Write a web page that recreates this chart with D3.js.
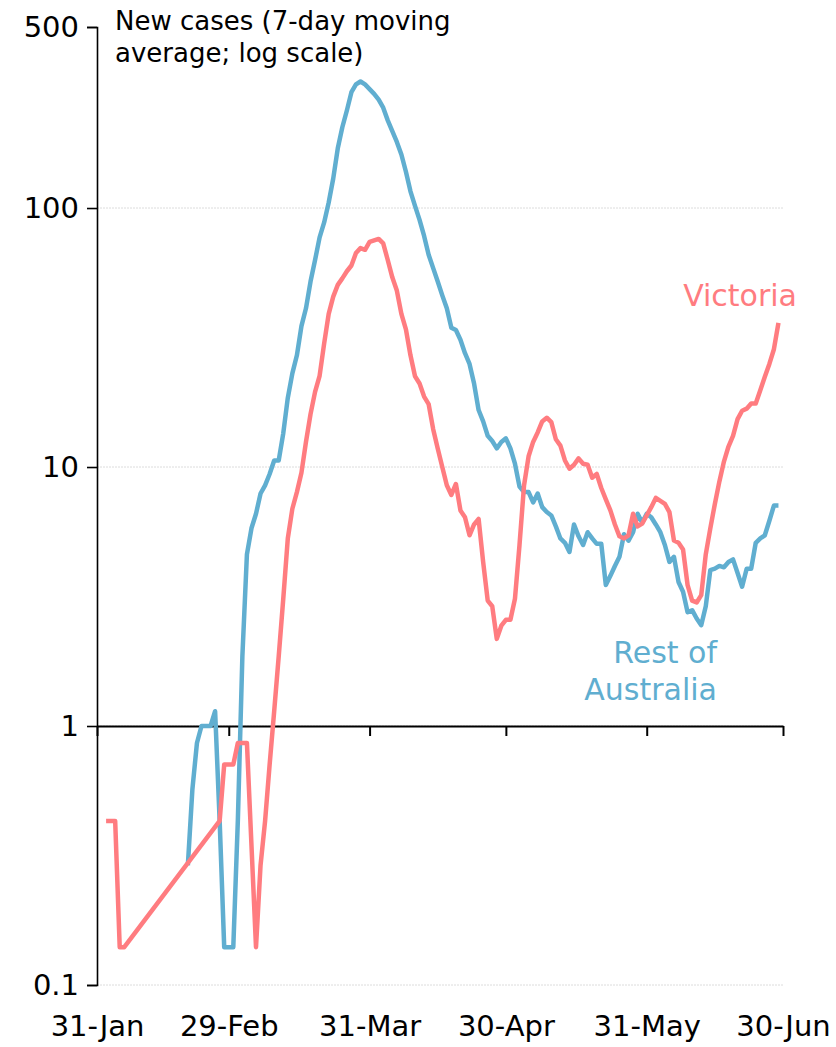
<!DOCTYPE html>
<html>
<head>
<meta charset="utf-8">
<script src="https://cdn.jsdelivr.net/npm/d3@7"></script>
<style>
  body { margin: 0; background: #fff; }
  svg text { font-family: "Century Gothic", "DejaVu Sans", sans-serif; fill: #000; }
</style>
</head>
<body>
<svg></svg>
<script>
const svg = d3.select("svg");

const sizes = {
  width: 836,
  height: 1047,
  left: 97,
  right: 783,
  top: 27,
  bottom: 985
};

svg.attr("width", sizes.width).attr("height", sizes.height);

// daily 7-day averages, starting 31 Jan 2020 (null = no cases that day)
const startDate = new Date(Date.UTC(2020, 0, 31));

const victoria = [
  null, null, 0.43, 0.43, 0.43, 0.14, 0.14, null, null, null,
  null, null, null, null, null, null, null, null, null, null,
  null, null, null, null, null, null, null, 0.43, 0.71, 0.71,
  0.71, 0.86, 0.86, 0.86, null, 0.14, 0.29, 0.43, 0.71, 1.14,
  1.86, 3.1, 5.3, 6.9, 8.0, 9.5, 12.5, 16, 19.5, 22.5,
  30, 39, 45.5, 50.5, 53.5, 57, 60, 67, 70, 69,
  74, 75, 76, 73, 63, 54, 48, 39, 34, 27,
  22.4, 21, 18.7, 17.5, 14, 11.8, 10, 8.5, 7.8, 8.6,
  6.8, 6.4, 5.45, 6.0, 6.3, 4.3, 3.05, 2.9, 2.17, 2.44,
  2.57, 2.57, 3.1, 5.0, 8.5, 11, 12.5, 13.6, 15.0, 15.5,
  14.9, 12.8, 12.1, 10.6, 9.85, 10.2, 10.8, 10.3, 10.2, 9.1,
  9.4, 8.3, 7.5, 6.8, 6.0, 5.4, 5.3, 5.45, 6.6, 5.9,
  6.05, 6.5, 7.0, 7.6, 7.4, 7.2, 6.7, 5.2, 5.1, 4.8,
  3.5, 3.05, 3.0, 3.2, 4.6, 5.8, 7.2, 8.8, 10.5, 12,
  13.2, 15.3, 16.5, 16.8, 17.6, 17.6, 19.8, 22.3, 25, 28.5,
  36
];

const restOfAustralia = [
  null, null, null, null, null, null, null, null, null, null,
  null, null, null, null, null, null, null, null, null, null,
  0.29, 0.57, 0.86, 1.0, 1.0, 1.0, 1.14, 0.43, 0.14, 0.14,
  0.14, 0.43, 1.86, 4.6, 5.8, 6.6, 7.9, 8.5, 9.4, 10.6,
  10.6, 13.5, 18.5, 23, 27, 35, 41, 52, 63, 77,
  88, 105, 130, 170, 205, 238, 280, 300, 308, 300,
  288, 276, 262, 244, 218, 198, 180, 161, 138, 116,
  102, 90, 78, 66, 58.6, 52, 46, 41, 34.5, 33.8,
  31, 27.5, 25, 21, 16.6, 15, 13.2, 12.6, 11.8, 12.5,
  12.9, 11.8, 10.3, 8.4, 8.0, 8.0, 7.3, 7.9, 7.0, 6.7,
  6.5, 5.9, 5.3, 5.1, 4.7, 6.0, 5.4, 5.0, 5.6, 5.3,
  5.05, 5.05, 3.5, 3.8, 4.15, 4.5, 5.5, 5.2, 5.6, 6.6,
  6.1, 6.6, 6.4, 6.0, 5.6, 5.0, 4.3, 4.5, 3.6, 3.3,
  2.75, 2.8, 2.6, 2.45, 2.9, 4.0, 4.05, 4.15, 4.1, 4.3,
  4.4, 3.9, 3.45, 4.05, 4.05, 5.1, 5.3, 5.45, 6.2, 7.1,
  7.1
];

const yTicks = [0.1, 1, 10, 100, 500];
const yGrid = [0.1, 1, 10, 100];
const xTickDates = ["2020-01-31", "2020-02-29", "2020-03-31", "2020-04-30", "2020-05-31", "2020-06-30"];
const xTickLabels = ["31-Jan", "29-Feb", "31-Mar", "30-Apr", "31-May", "30-Jun"];

const colours = { victoria: "#ff7c80", rest: "#60aed0" };

const x = d3
  .scaleUtc()
  .domain([startDate, new Date(Date.UTC(2020, 5, 30))])
  .range([sizes.left, sizes.right]);

const y = d3
  .scaleLog()
  .domain([0.1, 500])
  .range([sizes.bottom, sizes.top]);

// gridlines
svg
  .append("g")
  .selectAll("line")
  .data(yGrid)
  .enter()
  .append("line")
  .attr("x1", sizes.left)
  .attr("x2", sizes.right)
  .attr("y1", d => y(d))
  .attr("y2", d => y(d))
  .attr("stroke", "#dcdcdc")
  .attr("stroke-width", 1)
  .attr("stroke-dasharray", "2,1");

// y axis
const yAxis = svg
  .append("g")
  .attr("transform", `translate(${sizes.left},0)`)
  .call(
    d3
      .axisLeft(y)
      .tickValues(yTicks)
      .tickFormat(d => (d < 1 ? "0.1" : d3.format("d")(d)))
      .tickSize(10)
      .tickPadding(8)
  );

yAxis.select(".domain").attr("stroke", "#000").attr("stroke-width", 1.6);
yAxis.selectAll(".tick line").attr("stroke", "#000").attr("stroke-width", 1.6);
yAxis
  .selectAll(".tick text")
  .style("font-size", "29px")
  .attr("fill", "#000");

// x axis sits on the 1 line
const xAxis = svg
  .append("g")
  .attr("transform", `translate(0,${y(1)})`)
  .call(
    d3
      .axisBottom(x)
      .tickValues(xTickDates.map(s => new Date(s + "T00:00:00Z")))
      .tickFormat((d, i) => xTickLabels[i])
      .tickSize(10)
      .tickSizeOuter(0)
  );

xAxis.select(".domain").attr("stroke", "#000").attr("stroke-width", 2.2);
xAxis.selectAll(".tick line").attr("stroke", "#000").attr("stroke-width", 2);
xAxis
  .selectAll(".tick text")
  .attr("y", 310)
  .attr("dy", 0)
  .style("font-size", "29px")
  .attr("fill", "#000");

// lines
const lineCreater = d3
  .line()
  .x(d => x(d.date))
  .y(d => y(d.value));

function toPoints(values) {
  return values
    .map((v, i) => ({ date: d3.utcDay.offset(startDate, i), value: v }))
    .filter(d => d.value !== null);
}

svg
  .append("path")
  .attr("d", lineCreater(toPoints(restOfAustralia)))
  .attr("fill", "none")
  .attr("stroke", colours.rest)
  .attr("stroke-width", 4.5)
  .attr("stroke-linejoin", "round");

svg
  .append("path")
  .attr("d", lineCreater(toPoints(victoria)))
  .attr("fill", "none")
  .attr("stroke", colours.victoria)
  .attr("stroke-width", 4.5)
  .attr("stroke-linejoin", "round");

// axis title
const title = svg
  .append("text")
  .attr("x", 115)
  .attr("y", 30)
  .style("font-size", "26px");
title.append("tspan").attr("x", 115).text("New cases (7-day moving");
title.append("tspan").attr("x", 115).attr("dy", 32).text("average; log scale)");

// series labels
svg
  .append("text")
  .attr("x", 797)
  .attr("y", 306)
  .attr("text-anchor", "end")
  .style("font-size", "30px")
  .style("fill", colours.victoria)
  .text("Victoria");

const restLabel = svg
  .append("text")
  .attr("y", 663)
  .attr("text-anchor", "end")
  .style("font-size", "30px")
  .style("fill", colours.rest);
restLabel.append("tspan").attr("x", 717).text("Rest of");
restLabel.append("tspan").attr("x", 717).attr("dy", 37).text("Australia");
</script>
</body>
</html>
